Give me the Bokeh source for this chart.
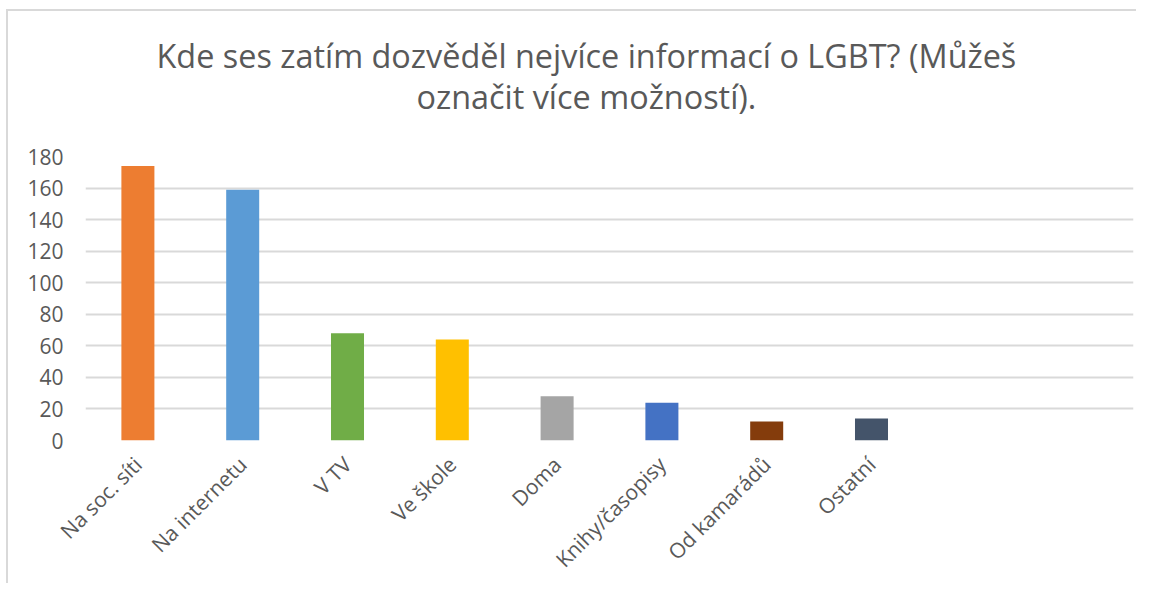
from bokeh.plotting import figure
from bokeh.models import FactorRange, ColumnDataSource, Range1d, FixedTicker, Title
from bokeh.embed import file_html
from bokeh.resources import INLINE
from math import pi

title_lines = ["Kde ses zatím dozvěděl nejvíce informací o LGBT? (Můžeš",
               "označit více možností)."]
categories = ["Na soc. síti", "Na internetu", "V TV", "Ve škole", "Doma",
              "Knihy/časopisy", "Od kamarádů", "Ostatní"]
values = [174, 159, 68, 64, 28, 24, 12, 14]
colors = ["#ED7D31", "#5B9BD5", "#70AD47", "#FFC000", "#A5A5A5",
          "#4472C4", "#843C0C", "#44546A"]
empty_slots = [" ", "  "]
y_ticks = [0, 20, 40, 60, 80, 100, 120, 140, 160, 180]

source = ColumnDataSource(dict(cat=categories, val=values, color=colors))

p = figure(x_range=FactorRange(factors=categories + empty_slots),
           y_range=Range1d(0, 180),
           width=1130, height=574,
           output_backend="svg", toolbar_location=None,
           min_border_left=77, min_border_right=5,
           min_border_top=145, min_border_bottom=136)
p.margin = (9, 0, 0, 6)

p.vbar(x="cat", top="val", width=0.315, fill_color="color", line_color=None,
       source=source)

def make_title(text, offset, standoff):
    return Title(text=text, align="left", offset=offset, standoff=standoff,
                 text_font="Open Sans", text_font_size="32.4px",
                 text_font_style="normal", text_color="#595959")

p.title.text = ""
p.add_layout(make_title(title_lines[1], 331, 78), "above")
p.add_layout(make_title(title_lines[0], 71, -89), "above")

p.outline_line_color = None
p.background_fill_color = "white"
p.border_fill_color = "white"

p.xgrid.grid_line_color = None
p.ygrid.grid_line_color = "#D9D9D9"
p.ygrid.grid_line_width = 2
p.yaxis.ticker = FixedTicker(ticks=y_ticks)

for ax in (p.xaxis[0], p.yaxis[0]):
    ax.axis_line_color = None
    ax.major_tick_line_color = None
    ax.minor_tick_line_color = None
    ax.major_tick_in = 0
    ax.major_tick_out = 0
    ax.minor_tick_out = 0
    ax.major_label_text_font = "Open Sans"
    ax.major_label_text_font_size = "21px"
    ax.major_label_text_color = "#595959"

p.yaxis.major_label_standoff = 22
p.xaxis.major_label_standoff = 20
p.xaxis.major_label_orientation = pi / 4

p.styles = {"border-left": "2px solid #D9D9D9", "border-top": "2px solid #D9D9D9"}

open("out.html", "w").write(file_html(p, INLINE))
